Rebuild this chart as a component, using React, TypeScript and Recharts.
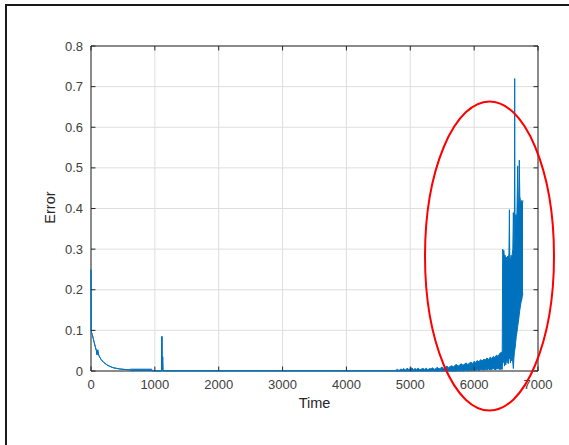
import {
  Area,
  CartesianGrid,
  ComposedChart,
  ReferenceArea,
  ReferenceLine,
  XAxis,
  YAxis,
} from "recharts";

const font = "'Liberation Sans', Arial, Helvetica, sans-serif";

const xTicks = [0, 1000, 2000, 3000, 4000, 5000, 6000, 7000];
const yTicks = [0, 0.1, 0.2, 0.3, 0.4, 0.5, 0.6, 0.7, 0.8];

// single valued parts of the trace (start-up decay, the spike near 1100, flat zero)
const traceTime = [
  0, 3, 8, 20, 35, 50, 70, 85, 95, 105, 115, 130, 160, 200, 250, 300, 350, 400,
  450, 500, 550, 600, 960, 1105, 1110, 1115, 1122, 1127, 4750,
];
const traceError = [
  0.25, 0.1, 0.095, 0.09, 0.08, 0.07, 0.058, 0.05, 0.04, 0.052, 0.042, 0.036,
  0.028, 0.021, 0.015, 0.011, 0.008, 0.0065, 0.005, 0.0042, 0.0036, 0.003,
  0.0005, 0.0005, 0.085, 0.0005, 0.035, 0.0005, 0.0005,
];

// dense noisy parts, read as min / max envelope
const settleTime = [620, 950];
const settleLow = [0.0015, 0.0015];
const settleHigh = [0.0045, 0.0045];

const noiseTime = [
  4775, 4800, 4825, 4850, 4875, 4900, 4925, 4950, 4975, 5000, 5025, 5050, 5075,
  5100, 5125, 5150, 5175, 5200, 5225, 5250, 5275, 5300, 5325, 5350, 5375, 5400,
  5425, 5450, 5475, 5500, 5525, 5550, 5575, 5600, 5625, 5650, 5675, 5700, 5725,
  5750, 5775, 5800, 5825, 5850, 5875, 5900, 5925, 5950, 5975, 6000, 6025, 6050,
  6075, 6100, 6125, 6150, 6175, 6200, 6225, 6250, 6275, 6300, 6325, 6350, 6375,
  6400, 6425,
];
const noiseLow = [
  0, 0, 0, 0, 0, 0, 0, 0, 0, 0, 0, 0, 0, 0, 0, 0, 0, 0, 0, 0, 0, 0, 0, 0, 0, 0,
  0, 0, 0, 0, 0, 0, 0, 0, 0, 0, 0, 0, 0, 0.001, 0, 0.001, 0, 0.001, 0.002, 0,
  0.002, 0.001, 0.002, 0.003, 0.002, 0.003, 0.001, 0.003, 0.004, 0.002, 0.004,
  0.003, 0.005, 0.003, 0.004, 0.006, 0.003, 0.005, 0.006, 0.004, 0.005,
];
const noiseHigh = [
  0.002, 0.004, 0.001, 0.005, 0.003, 0.006, 0.002, 0.007, 0.004, 0.005, 0.008,
  0.003, 0.006, 0.004, 0.007, 0.003, 0.005, 0.006, 0.004, 0.007, 0.003, 0.006,
  0.005, 0.008, 0.004, 0.006, 0.009, 0.005, 0.007, 0.01, 0.006, 0.009, 0.012,
  0.008, 0.011, 0.013, 0.01, 0.014, 0.016, 0.012, 0.015, 0.018, 0.014, 0.017,
  0.02, 0.016, 0.019, 0.022, 0.018, 0.024, 0.021, 0.026, 0.022, 0.028, 0.025,
  0.029, 0.027, 0.032, 0.028, 0.034, 0.031, 0.036, 0.033, 0.039, 0.036, 0.043,
  0.046,
];

const burstTime = [
  6440, 6447, 6455, 6465, 6475, 6485, 6495, 6505, 6515, 6525, 6535, 6545, 6552,
  6558, 6568, 6578, 6588, 6598, 6606, 6614, 6622, 6630, 6635, 6640, 6650, 6660,
  6670, 6682, 6692, 6700, 6707, 6715, 6725, 6735, 6745, 6755, 6765,
];
const burstLow = [
  0.004, 0.035, 0.02, 0.038, 0.012, 0.03, 0.015, 0.035, 0.02, 0.033, 0.018,
  0.036, 0.03, 0.04, 0.02, 0.038, 0.025, 0.035, 0.02, 0.006, 0.03, 0.045, 0.05,
  0.055, 0.07, 0.085, 0.095, 0.11, 0.12, 0.13, 0.14, 0.15, 0.16, 0.17, 0.175,
  0.185, 0.19,
];
const burstHigh = [
  0.046, 0.3, 0.29, 0.297, 0.278, 0.285, 0.272, 0.28, 0.27, 0.283, 0.275, 0.29,
  0.397, 0.28, 0.27, 0.285, 0.275, 0.29, 0.3, 0.39, 0.31, 0.33, 0.72, 0.36,
  0.385, 0.37, 0.39, 0.505, 0.4, 0.42, 0.519, 0.43, 0.42, 0.415, 0.42, 0.41,
  0.42,
];

const rows = [
  ...traceTime.map((t, i) => ({ t, band: [traceError[i], traceError[i]] })),
  ...settleTime.map((t, i) => ({ t, band: [settleLow[i], settleHigh[i]] })),
  ...noiseTime.map((t, i) => ({ t, band: [noiseLow[i], noiseHigh[i]] })),
  ...burstTime.map((t, i) => ({ t, band: [burstLow[i], burstHigh[i]] })),
].sort((a, b) => a.t - b.t);

const tickStyle = { fontSize: 13, fill: "#404040", fontFamily: font };
const boxColor = "#262626";

// matlab style inward tick marks on all four sides of the box
const tickMarks = [
  ...xTicks.flatMap((x) => [
    [{ x, y: 0 }, { x, y: 0.011 }],
    [{ x, y: 0.8 }, { x, y: 0.789 }],
  ]),
  ...yTicks.flatMap((y) => [
    [{ x: 0, y }, { x: 70, y }],
    [{ x: 7000, y }, { x: 6930, y }],
  ]),
];

export default function App() {
  return (
    <div style={{ position: "absolute", left: 0, top: 0, width: 569, height: 445, background: "#fff" }}>
      <ComposedChart
        width={569}
        height={445}
        data={rows}
        margin={{ top: 46, right: 31, bottom: 44, left: 51 }}
      >
        <CartesianGrid stroke="#dedede" horizontalValues={yTicks} verticalValues={xTicks} />

        <XAxis
          dataKey="t"
          type="number"
          domain={[0, 7000]}
          ticks={xTicks}
          interval={0}
          axisLine={false}
          tickLine={false}
          tickMargin={3}
          height={30}
          tick={tickStyle}
        />

        <YAxis
          type="number"
          domain={[0, 0.8]}
          ticks={yTicks}
          interval={0}
          axisLine={false}
          tickLine={false}
          width={40}
          tick={tickStyle}
          tickFormatter={(v: number) => String(v)}
        />

        {tickMarks.map((seg, i) => (
          <ReferenceLine key={i} segment={seg} stroke={boxColor} strokeWidth={1} ifOverflow="visible" />
        ))}

        <ReferenceArea
          x1={0}
          x2={7000}
          y1={0}
          y2={0.8}
          fill="none"
          stroke={boxColor}
          strokeWidth={1}
          ifOverflow="visible"
        />

        <Area
          dataKey="band"
          type="linear"
          stroke="#0072BD"
          strokeWidth={1}
          fill="#0072BD"
          fillOpacity={1}
          dot={false}
          activeDot={false}
          isAnimationActive={false}
        />
      </ComposedChart>

      <svg
        width={569}
        height={445}
        style={{ position: "absolute", left: 0, top: 0, pointerEvents: "none" }}
      >
        <path d="M6 445 V5 H569" fill="none" stroke="#1a1a1a" strokeWidth={2} />
        <text
          x={55}
          y={207.5}
          transform="rotate(-90 55 207.5)"
          textAnchor="middle"
          fontSize={14.5}
          fill="#262626"
          fontFamily={font}
        >
          Error
        </text>
        <text x={314.5} y={408} textAnchor="middle" fontSize={14.5} fill="#262626" fontFamily={font}>
          Time
        </text>
        <ellipse cx={489.5} cy={256} rx={64.5} ry={154.5} fill="none" stroke="#ff0000" strokeWidth={2} />
      </svg>
    </div>
  );
}
